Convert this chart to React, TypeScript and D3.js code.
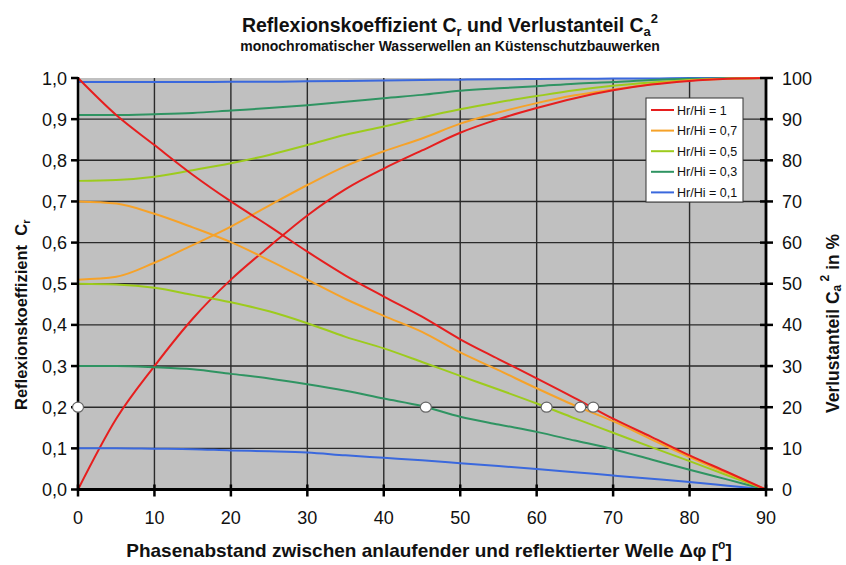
import React from 'react';
import * as d3 from 'd3';

// Phase difference (degrees)
const phase = [0, 5, 10, 15, 20, 25, 30, 35, 40, 45, 50, 55, 60, 65, 70, 75, 80, 85, 90];

// Reflection coefficient Cr (left axis)
const cr1 = [1.0, 0.91, 0.837, 0.765, 0.70, 0.64, 0.578, 0.52, 0.469, 0.42, 0.365, 0.317, 0.27, 0.222, 0.172, 0.128, 0.083, 0.042, 0];
const cr07 = [0.70, 0.695, 0.67, 0.637, 0.601, 0.557, 0.51, 0.463, 0.422, 0.383, 0.333, 0.29, 0.246, 0.204, 0.166, 0.122, 0.079, 0.039, 0];
const cr05 = [0.50, 0.498, 0.49, 0.473, 0.455, 0.433, 0.404, 0.371, 0.343, 0.31, 0.276, 0.243, 0.209, 0.173, 0.138, 0.103, 0.069, 0.034, 0];
const cr03 = [0.30, 0.30, 0.297, 0.292, 0.281, 0.27, 0.256, 0.24, 0.221, 0.203, 0.177, 0.158, 0.14, 0.119, 0.098, 0.073, 0.048, 0.024, 0];
const cr01 = [0.10, 0.10, 0.099, 0.098, 0.095, 0.093, 0.09, 0.083, 0.077, 0.071, 0.064, 0.057, 0.05, 0.042, 0.034, 0.026, 0.018, 0.009, 0];

// Loss share Ca^2 in % (right axis)
const loss1 = [0, 17.2, 30, 41.5, 51, 59, 66.6, 73, 78, 82.4, 86.7, 90, 92.7, 95.1, 97, 98.4, 99.3, 99.8, 100];
const loss07 = [51, 51.7, 55.1, 59.4, 63.9, 69, 74, 78.6, 82.2, 85.3, 88.9, 91.6, 93.9, 95.8, 97.2, 98.5, 99.4, 99.8, 100];
const loss05 = [75, 75.2, 76, 77.6, 79.3, 81.3, 83.7, 86.2, 88.2, 90.4, 92.4, 94.1, 95.6, 97, 98.1, 98.9, 99.5, 99.9, 100];
const loss03 = [91, 91, 91.2, 91.5, 92.1, 92.7, 93.4, 94.2, 95.1, 95.9, 96.9, 97.5, 98, 98.6, 99, 99.5, 99.8, 99.9, 100];
const loss01 = [99, 99, 99, 99, 99.1, 99.1, 99.2, 99.3, 99.4, 99.5, 99.6, 99.7, 99.75, 99.8, 99.9, 99.9, 100, 100, 100];

const seriesNames = ['Hr/Hi = 1', 'Hr/Hi = 0,7', 'Hr/Hi = 0,5', 'Hr/Hi = 0,3', 'Hr/Hi = 0,1'];
const seriesColors = ['#E61E1E', '#F6A229', '#9DCB1D', '#2F9462', '#3A68DD'];
const crSeries = [cr1, cr07, cr05, cr03, cr01];
const lossSeries = [loss1, loss07, loss05, loss03, loss01];

// White markers at Cr = 0.2
const markerPhase = [0, 45.5, 61.3, 65.7, 67.4];
const markerCr = [0.2, 0.2, 0.2, 0.2, 0.2];

const xTicks = [0, 10, 20, 30, 40, 50, 60, 70, 80, 90];
const yTicks = [0, 0.1, 0.2, 0.3, 0.4, 0.5, 0.6, 0.7, 0.8, 0.9, 1.0];
const y2Ticks = [0, 10, 20, 30, 40, 50, 60, 70, 80, 90, 100];

const W = 846;
const H = 565;
const L = 78;
const R = 766;
const T = 78;
const B = 489.5;

export default function App() {
  const x = d3.scaleLinear().domain([0, 90]).range([L, R]);
  const y = d3.scaleLinear().domain([0, 1]).range([B, T]);
  const y2 = d3.scaleLinear().domain([0, 100]).range([B, T]);

  const lineCr = (vals: number[]) =>
    d3.line<number>().x((_, i) => x(phase[i])).y((d) => y(d)).curve(d3.curveMonotoneX)(vals) || '';
  const lineLoss = (vals: number[]) =>
    d3.line<number>().x((_, i) => x(phase[i])).y((d) => y2(d)).curve(d3.curveMonotoneX)(vals) || '';

  const font = "'Liberation Sans', Arial, sans-serif";
  const order = [4, 3, 2, 1, 0];

  return (
    <svg width={W} height={H} style={{ position: 'absolute', left: 0, top: 0, background: '#fff' }} fontFamily={font}>
      <rect x={0} y={0} width={W} height={H} fill="#fff" />
      {/* Title */}
      <text x={450} y={32} textAnchor="middle" fontSize={19.5} fontWeight="bold" fill="#111">
        Reflexionskoeffizient C<tspan fontSize={13} dy={4}>r</tspan>
        <tspan dy={-4}> und Verlustanteil C</tspan>
        <tspan fontSize={13} dy={4}>a</tspan>
        <tspan fontSize={13} dy={-13}>2</tspan>
      </text>
      <text x={450} y={51} textAnchor="middle" fontSize={14} fontWeight="bold" fill="#111">
        monochromatischer Wasserwellen an Küstenschutzbauwerken
      </text>

      {/* Plot area */}
      <rect x={L} y={T} width={R - L} height={B - T} fill="#C0C0C0" />
      {xTicks.slice(1, -1).map((t) => (
        <line key={'gx' + t} x1={x(t)} x2={x(t)} y1={T} y2={B} stroke="#2a2a2a" strokeWidth={1.4} />
      ))}
      {yTicks.slice(1, -1).map((t) => (
        <line key={'gy' + t} x1={L} x2={R} y1={y(t)} y2={y(t)} stroke="#2a2a2a" strokeWidth={1.4} />
      ))}

      {/* Curves */}
      {order.map((i) => (
        <path key={'loss' + i} d={lineLoss(lossSeries[i])} fill="none" stroke={seriesColors[i]} strokeWidth={2} />
      ))}
      {order.map((i) => (
        <path key={'cr' + i} d={lineCr(crSeries[i])} fill="none" stroke={seriesColors[i]} strokeWidth={2} />
      ))}

      {/* Axes */}
      <line x1={L} x2={L} y1={T - 1} y2={B + 1} stroke="#000" strokeWidth={2.5} />
      <line x1={R} x2={R} y1={T - 1} y2={B + 1} stroke="#000" strokeWidth={2.8} />
      <line x1={L - 1} x2={R + 1} y1={B} y2={B} stroke="#000" strokeWidth={2.8} />
      {yTicks.map((t) => (
        <g key={'ly' + t}>
          <line x1={L - 7} x2={L} y1={y(t)} y2={y(t)} stroke="#000" strokeWidth={2.5} />
          <text x={67} y={y(t) + 6.5} textAnchor="end" fontSize={18} fill="#111">
            {t.toFixed(1).replace('.', ',')}
          </text>
        </g>
      ))}
      {y2Ticks.map((t) => (
        <g key={'ry' + t}>
          <line x1={R - 6} x2={R + 7} y1={y2(t)} y2={y2(t)} stroke="#000" strokeWidth={2.5} />
          <text x={782} y={y2(t) + 6.5} textAnchor="start" fontSize={18} fill="#111">
            {t}
          </text>
        </g>
      ))}
      {xTicks.map((t) => (
        <g key={'bx' + t}>
          <line x1={x(t)} x2={x(t)} y1={B - 5} y2={B + 7} stroke="#000" strokeWidth={2.5} />
          <text x={x(t)} y={524} textAnchor="middle" fontSize={18} fill="#111">
            {t}
          </text>
        </g>
      ))}

      {/* Markers */}
      {markerPhase.map((p, i) => (
        <ellipse key={'m' + i} cx={x(p)} cy={y(markerCr[i])} rx={5.5} ry={5} fill="#fff" stroke="#666" strokeWidth={1.2} />
      ))}

      {/* Axis titles */}
      <text x={429} y={557} textAnchor="middle" fontSize={19} fontWeight="bold" fill="#111">
        Phasenabstand zwischen anlaufender und reflektierter Welle Δφ [<tspan fontSize={12} dy={-8}>o</tspan>
        <tspan dy={8}>]</tspan>
      </text>
      <text transform={`translate(27,410) rotate(-90)`} textAnchor="start" fontSize={16.5} fontWeight="bold" fill="#111">
        Reflexionskoeffizient{'\u00a0\u00a0'}C<tspan fontSize={11} dy={3}>r</tspan>
      </text>
      <text transform={`translate(839,413) rotate(-90)`} textAnchor="start" fontSize={17.5} fontWeight="bold" fill="#111">
        Verlustanteil C<tspan fontSize={12} dy={2}>a</tspan>
        <tspan fontSize={12} dy={-12}>{'\u00a0'}2</tspan>
        <tspan dy={10}>{'\u00a0'}in %</tspan>
      </text>

      {/* Legend */}
      <rect x={646} y={98} width={97} height={104} fill="#fff" stroke="#333" strokeWidth={1} />
      {seriesNames.map((n, i) => (
        <g key={'lg' + i}>
          <line x1={651} x2={674} y1={110 + i * 20.6} y2={110 + i * 20.6} stroke={seriesColors[i]} strokeWidth={2} />
          <text x={677} y={110 + i * 20.6 + 4.5} fontSize={12.5} fill="#111">
            {n}
          </text>
        </g>
      ))}
    </svg>
  );
}
